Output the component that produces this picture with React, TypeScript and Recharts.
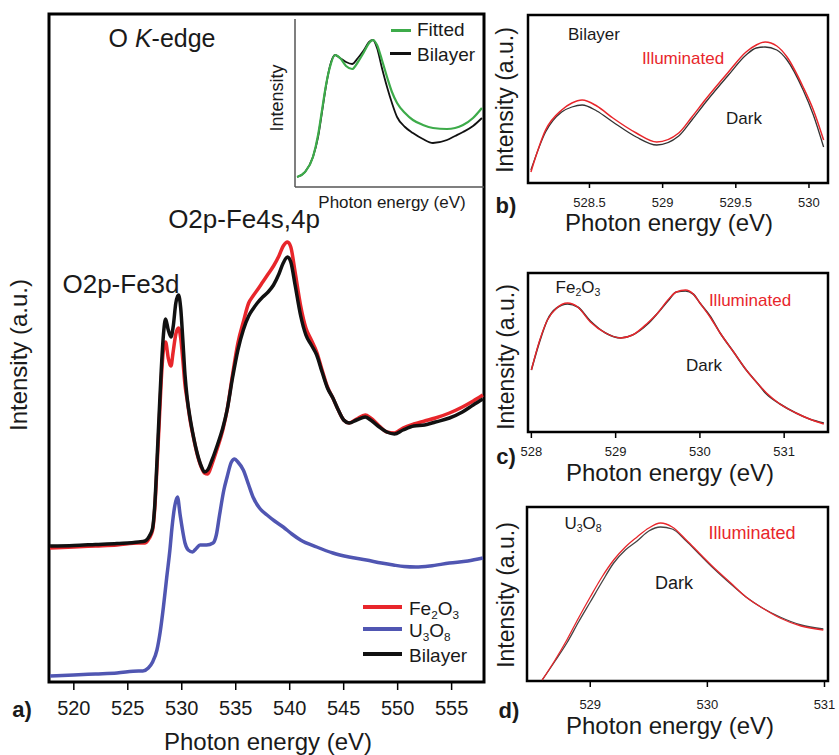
import React from 'react';
import { LineChart, Line, XAxis, YAxis, ReferenceArea, ReferenceLine } from 'recharts';

const FONT = '"Liberation Sans", Arial, Helvetica, sans-serif';
const RED = '#e8262b';
const BLUE = '#5056b2';
const GREEN = '#3dab4a';
const BLACK = '#111111';
const TXT = '#1a1a1a';

// ---------- Panel a : O K-edge ----------
const energyA = [517.8, 520, 522, 524, 526, 526.6, 527.0, 527.3, 527.5, 527.7, 527.9, 528.1, 528.3, 528.5, 528.75, 529.0, 529.2, 529.45, 529.7, 529.9, 530.1, 530.3, 530.5, 530.8, 531.0, 531.4, 531.8, 532.1, 532.4, 532.8, 533.3, 533.8, 534.2, 534.7, 535.2, 535.7, 536.2, 536.6, 537.0, 537.5, 538.0, 538.5, 539.0, 539.4, 539.8, 540.1, 540.5, 541.0, 541.5, 542.0, 542.5, 543.0, 543.5, 544.0, 544.5, 545.0, 545.5, 546.2, 547.0, 547.5, 548.3, 549.0, 549.7, 550.5, 551.5, 552.5, 553.5, 554.8, 556.0, 557.0, 557.9];
const bilayerA = [136, 136.5, 137.5, 138.5, 140, 141, 146, 154, 177, 220, 267, 312, 347, 363, 352, 345, 355, 379, 387, 374, 342, 307, 284, 262, 250, 230, 216, 210, 212, 222, 237, 254, 272, 304, 332, 352, 366, 373, 379, 385, 390, 397, 408, 419, 425, 420, 397, 367, 347, 337, 327, 310, 294, 284, 272, 262, 259, 262, 265, 262, 255, 250, 248, 252, 256, 257, 260, 264, 270, 277, 283];
const fe2o3A = [134, 135, 136, 137, 139, 139, 144, 152, 174, 214, 257, 302, 332, 340, 324, 316, 330, 348, 354, 344, 322, 297, 282, 260, 249, 229, 215, 209, 208, 218, 234, 252, 272, 307, 339, 360, 379, 386, 392, 400, 408, 416, 426, 436, 440, 435, 410, 377, 354, 342, 330, 312, 295, 284, 272, 262, 259, 263, 267, 264, 256, 250, 249, 254, 258, 261, 264, 269, 275, 281, 287];
const energyU = [517.8, 520, 522, 524, 526, 526.4, 526.9, 527.3, 527.7, 528.0, 528.3, 528.6, 528.9, 529.1, 529.35, 529.6, 529.85, 530.1, 530.3, 530.6, 531.0, 531.3, 531.7, 532.3, 532.9, 533.2, 533.5, 533.9, 534.2, 534.6, 534.9, 535.2, 535.7, 536.2, 536.6, 537.2, 537.9, 538.6, 539.4, 540.2, 541.0, 542.5, 544.0, 545.5, 547.1, 548.5, 549.6, 550.6, 551.7, 553.0, 554.8, 556.5, 557.9];
const u3o8A = [6, 7, 8, 9, 11, 11, 14, 20, 32, 50, 75, 104, 132, 155, 176, 185, 167, 150, 139, 132, 130, 133, 137, 137, 139, 147, 167, 192, 205, 220, 223, 220, 212, 197, 185, 174, 167, 161, 155, 148, 142, 135, 129, 125, 122, 119, 117, 115.5, 115, 116, 119, 121, 124];
const ticksA = [520, 525, 530, 535, 540, 545, 550, 555];

// ---------- Inset ----------
const energyInset = [526.11, 526.53, 526.95, 527.22, 527.43, 527.64, 527.85, 528.12, 528.38, 528.70, 529.02, 529.33, 529.65, 529.92, 530.13, 530.34, 530.60, 530.87, 531.13, 531.40, 531.82, 532.24, 532.77, 533.30, 534.04, 534.47, 534.89, 535.42, 535.89];
const fittedInset = [10, 15, 30, 52, 77, 102, 120, 132, 129, 121, 118, 125, 135, 144, 147, 142, 127, 110, 95, 84, 74, 67, 62, 59, 58, 59, 62, 69, 79];
const bilayerInset = [10, 15, 30, 50, 75, 101, 121, 132, 129, 125, 123, 129, 137, 145, 147, 139, 119, 100, 84, 70, 60, 54, 48, 44, 47, 51, 55, 61, 69];

// ---------- Panel b : Bilayer ----------
const energyB = [528.10, 528.2, 528.31, 528.38, 528.45, 528.55, 528.66, 528.82, 528.96, 529.11, 529.2, 529.29, 529.45, 529.57, 529.64, 529.7, 529.78, 529.85, 529.96, 530.03, 530.1];
const illumB = [11, 53, 73, 80, 83, 77, 65, 50, 41, 50, 66, 83, 111, 131, 138, 141, 137, 126, 96, 73, 43];
const darkB = [13, 51, 71, 76, 78, 72, 61, 46, 38, 47, 63, 80, 108, 128, 135, 136, 133, 123, 93, 68, 36];
const ticksB = [528.5, 529, 529.5, 530];

// ---------- Panel c : Fe2O3 ----------
const energyC = [528.0, 528.1, 528.19, 528.3, 528.43, 528.55, 528.7, 528.88, 529.06, 529.2, 529.38, 529.5, 529.62, 529.72, 529.83, 529.92, 530.0, 530.12, 530.24, 530.4, 530.55, 530.68, 530.79, 530.95, 531.14, 531.3, 531.47];
const illumC = [62, 92, 112, 124, 129, 125, 110, 99, 94, 97, 109, 119, 132, 140, 142, 138, 129, 115, 99, 80, 62, 49, 39, 28, 19, 13, 8];
const darkC = [62, 91, 112, 124, 128, 125, 111, 99, 94, 97, 108, 119, 131, 140, 141, 138, 129, 116, 99, 80, 62, 49, 38, 28, 19, 13, 9];
const ticksC = [528, 529, 530, 531];
const minorTicksC = [528.5, 529.5, 530.5, 531.5];

// ---------- Panel d : U3O8 ----------
const energyD = [528.59, 528.7, 528.8, 528.9, 529.0, 529.1, 529.2, 529.3, 529.4, 529.5, 529.6, 529.7, 529.82, 529.93, 530.05, 530.2, 530.33, 530.47, 530.62, 530.8, 530.99];
const illumD = [1, 21, 41, 63, 84, 104, 121, 134, 144, 153, 158, 154, 141, 128, 114, 98, 84, 73, 63, 55, 51];
const darkD = [1, 20, 38, 59, 79, 99, 118, 131, 140, 150, 154, 152, 140, 127, 113, 97, 84, 73, 64, 56, 52];
const ticksD = [529, 530, 531];

const pts = (xs: number[], ys: number[]) => xs.map((x, i) => ({ x, y: ys[i] }));

type Series = { name: string; data: { x: number; y: number }[]; color: string; width: number };

function Panel(props: {
  left: number; top: number; width: number; height: number;
  margin: { top: number; right: number; bottom: number; left: number };
  xDomain: [number, number]; yDomain: [number, number];
  ticks: number[]; minorTicks?: number[];
  fontSize: number; tickSize: number; tickMargin: number; xh: number;
  series: Series[]; boxWidth: number;
}) {
  const p = props;
  return (
    <div style={{ position: 'absolute', left: p.left, top: p.top }}>
      <LineChart width={p.width} height={p.height} margin={p.margin}>
        {p.minorTicks ? (
          <XAxis
            xAxisId="minor"
            type="number"
            dataKey="x"
            domain={p.xDomain}
            allowDataOverflow
            ticks={p.minorTicks}
            interval={0}
            height={0}
            axisLine={false}
            tick={false}
            tickLine={{ stroke: '#000', strokeWidth: 1.5 }}
            tickSize={3}
          />
        ) : null}
        <XAxis
          type="number"
          dataKey="x"
          domain={p.xDomain}
          allowDataOverflow
          ticks={p.ticks}
          interval={0}
          height={p.xh}
          axisLine={false}
          tickLine={{ stroke: '#000', strokeWidth: 1.5 }}
          tickSize={p.tickSize}
          tickMargin={p.tickMargin}
          tick={{ fontSize: p.fontSize, fill: TXT, fontFamily: FONT }}
        />
        <YAxis type="number" dataKey="y" domain={p.yDomain} allowDataOverflow hide />
        {p.series.map((s) => (
          <Line
            key={s.name}
            name={s.name}
            data={s.data}
            dataKey="y"
            type="monotone"
            stroke={s.color}
            strokeWidth={s.width}
            dot={false}
            activeDot={false}
            isAnimationActive={false}
          />
        ))}
        <ReferenceArea
          x1={p.xDomain[0]}
          x2={p.xDomain[1]}
          y1={p.yDomain[0]}
          y2={p.yDomain[1]}
          fill="none"
          fillOpacity={0}
          stroke="#000"
          strokeWidth={p.boxWidth}
          ifOverflow="visible"
        />
      </LineChart>
    </div>
  );
}

function T(props: {
  x: number; y: number; size: number; color?: string; bold?: boolean;
  rotate?: boolean; anchor?: 'start' | 'middle'; children: React.ReactNode;
}) {
  const tx = props.anchor === 'start' ? '0' : '-50%';
  return (
    <div
      style={{
        position: 'absolute',
        left: props.x,
        top: props.y,
        transform: `translate(${tx},-50%)${props.rotate ? ' rotate(-90deg)' : ''}`,
        fontSize: props.size,
        fontFamily: FONT,
        color: props.color || TXT,
        fontWeight: props.bold ? 700 : 400,
        whiteSpace: 'nowrap',
        lineHeight: 1,
      }}
    >
      {props.children}
    </div>
  );
}

const Sub = ({ children }: { children: React.ReactNode }) => (
  <span style={{ fontSize: '0.62em', position: 'relative', top: '0.3em' }}>{children}</span>
);

const Bar = ({ x, y, w, h, c }: { x: number; y: number; w: number; h: number; c: string }) => (
  <div style={{ position: 'absolute', left: x, top: y - h / 2, width: w, height: h, background: c }} />
);

export default function App() {
  return (
    <div style={{ position: 'absolute', left: 0, top: 0, width: 839, height: 755, background: '#fff', overflow: 'hidden' }}>
      {/* Panel a */}
      <Panel
        left={0} top={0} width={500} height={755}
        margin={{ top: 14, right: 16, bottom: 33, left: 49 }}
        xDomain={[517.7, 558]} yDomain={[0, 668]}
        ticks={ticksA} fontSize={20} tickSize={8} tickMargin={11} xh={40}
        boxWidth={3}
        series={[
          { name: 'U3O8', data: pts(energyU, u3o8A), color: BLUE, width: 3.5 },
          { name: 'Fe2O3', data: pts(energyA, fe2o3A), color: RED, width: 3.5 },
          { name: 'Bilayer', data: pts(energyA, bilayerA), color: BLACK, width: 3.5 },
        ]}
      />
      {/* Inset */}
      <div style={{ position: 'absolute', left: 290, top: 10 }}>
        <LineChart width={200} height={190} margin={{ top: 9, right: 6, bottom: 13, left: 5 }}>
          <XAxis type="number" dataKey="x" domain={[526, 536]} allowDataOverflow hide />
          <YAxis type="number" dataKey="y" domain={[0, 168]} allowDataOverflow hide />
          <ReferenceLine x={526} stroke="#555" strokeWidth={1.5} ifOverflow="visible" />
          <ReferenceLine y={0} stroke="#555" strokeWidth={1.5} ifOverflow="visible" />
          <Line name="Bilayer" data={pts(energyInset, bilayerInset)} dataKey="y" type="monotone" stroke={BLACK} strokeWidth={1.8} dot={false} activeDot={false} isAnimationActive={false} />
          <Line name="Fitted" data={pts(energyInset, fittedInset)} dataKey="y" type="monotone" stroke={GREEN} strokeWidth={2.2} dot={false} activeDot={false} isAnimationActive={false} />
        </LineChart>
      </div>

      {/* Panel b */}
      <Panel
        left={480} top={0} width={359} height={250}
        margin={{ top: 15, right: 11, bottom: 37, left: 48 }}
        xDomain={[528.08, 530.13]} yDomain={[0, 168]}
        ticks={ticksB} fontSize={13} tickSize={5} tickMargin={10} xh={30}
        boxWidth={2.5}
        series={[
          { name: 'Dark', data: pts(energyB, darkB), color: '#333', width: 1.3 },
          { name: 'Illuminated', data: pts(energyB, illumB), color: RED, width: 1.5 },
        ]}
      />
      {/* Panel c */}
      <Panel
        left={480} top={250} width={359} height={250}
        margin={{ top: 23, right: 11, bottom: 38, left: 48 }}
        xDomain={[527.96, 531.52]} yDomain={[0, 159]}
        ticks={ticksC} minorTicks={minorTicksC} fontSize={13} tickSize={6} tickMargin={9} xh={30}
        boxWidth={2.5}
        series={[
          { name: 'Dark', data: pts(energyC, darkC), color: '#333', width: 1.6 },
          { name: 'Illuminated', data: pts(energyC, illumC), color: RED, width: 1.4 },
        ]}
      />
      {/* Panel d */}
      <Panel
        left={480} top={490} width={359} height={265}
        margin={{ top: 17, right: 11, bottom: 44, left: 47 }}
        xDomain={[528.46, 531.03]} yDomain={[0, 174]}
        ticks={ticksD} fontSize={13} tickSize={6} tickMargin={13} xh={30}
        boxWidth={2.5}
        series={[
          { name: 'Dark', data: pts(energyD, darkD), color: '#444', width: 1.3 },
          { name: 'Illuminated', data: pts(energyD, illumD), color: RED, width: 1.3 },
        ]}
      />

      {/* Panel a texts */}
      <T x={162} y={38} size={25}>O <i>K</i>-edge</T>
      <T x={244} y={219} size={26}>O2p-Fe4s,4p</T>
      <T x={121} y={284} size={26}>O2p-Fe3d</T>
      <T x={19} y={355} size={24} rotate>Intensity (a.u.)</T>
      <T x={268} y={742} size={24}>Photon energy (eV)</T>
      <T x={22} y={710} size={22} bold>a)</T>

      {/* Main legend */}
      <Bar x={363} y={607} w={39} h={4} c={RED} />
      <Bar x={363} y={629} w={39} h={4} c={BLUE} />
      <Bar x={363} y={654} w={39} h={4} c={BLACK} />
      <T x={409} y={608} size={19} anchor="start">Fe<Sub>2</Sub>O<Sub>3</Sub></T>
      <T x={409} y={630} size={19} anchor="start">U<Sub>3</Sub>O<Sub>8</Sub></T>
      <T x={409} y={655} size={19} anchor="start">Bilayer</T>

      {/* Inset texts */}
      <Bar x={391} y={30} w={20} h={3} c={GREEN} />
      <Bar x={390} y={53} w={21} h={3} c={BLACK} />
      <T x={417} y={29} size={19} anchor="start">Fitted</T>
      <T x={417} y={54} size={19} anchor="start">Bilayer</T>
      <T x={277} y={98} size={18} rotate>Intensity</T>
      <T x={392} y={202} size={17}>Photon energy (eV)</T>

      {/* Panel b texts */}
      <T x={506} y={206} size={22} bold>b)</T>
      <T x={669} y={223} size={24}>Photon energy (eV)</T>
      <T x={505} y={100} size={23} rotate>Intensity (a.u.)</T>
      <T x={594} y={34} size={17}>Bilayer</T>
      <T x={683} y={58} size={17} color={RED}>Illuminated</T>
      <T x={744} y={118} size={17}>Dark</T>

      {/* Panel c texts */}
      <T x={506} y={457} size={22} bold>c)</T>
      <T x={670} y={473} size={24}>Photon energy (eV)</T>
      <T x={506} y={357} size={23} rotate>Intensity (a.u.)</T>
      <T x={578} y={287} size={17}>Fe<Sub>2</Sub>O<Sub>3</Sub></T>
      <T x={750} y={300} size={17} color={RED}>Illuminated</T>
      <T x={704} y={365} size={17}>Dark</T>

      {/* Panel d texts */}
      <T x={509} y={711} size={22} bold>d)</T>
      <T x={670} y={726} size={24}>Photon energy (eV)</T>
      <T x={506} y={595} size={23} rotate>Intensity (a.u.)</T>
      <T x={583} y={523} size={17}>U<Sub>3</Sub>O<Sub>8</Sub></T>
      <T x={752} y={533} size={18} color={RED}>Illuminated</T>
      <T x={674} y={583} size={18}>Dark</T>
    </div>
  );
}
